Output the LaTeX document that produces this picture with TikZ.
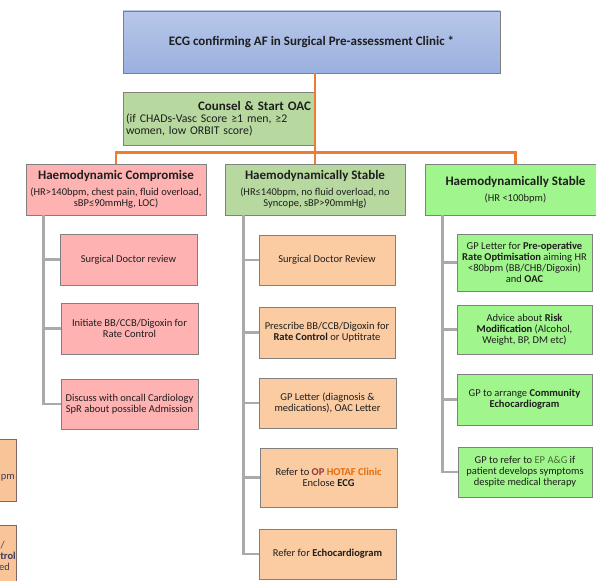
\documentclass[tikz,border=0pt]{standalone}
\usepackage{fontspec}
\setmainfont{Carlito}
\definecolor{bordergray}{RGB}{128,128,128}
\definecolor{textc}{RGB}{30,30,30}
\definecolor{bluetop}{RGB}{184,199,233}
\definecolor{bluebot}{RGB}{154,176,222}
\definecolor{counselg}{RGB}{183,217,160}
\definecolor{pinkc}{RGB}{255,178,178}
\definecolor{peachc}{RGB}{251,203,162}
\definecolor{brightg}{RGB}{160,245,140}
\definecolor{partc}{RGB}{248,196,152}
\definecolor{partborder}{RGB}{125,105,95}
\definecolor{parttext}{RGB}{60,60,90}
\definecolor{orangeline}{RGB}{237,125,49}
\definecolor{grayline}{RGB}{170,170,170}
\definecolor{opred}{RGB}{150,55,53}
\definecolor{hotaf}{RGB}{228,108,10}
\definecolor{epag}{RGB}{70,110,50}
\tikzset{
  basebox/.style={draw=bordergray, line width=0.8pt, inner sep=2pt, align=center, text=textc,
    font=\fontsize{10.5}{11}\selectfont},
  topbox/.style={basebox, top color=bluetop, bottom color=bluebot},
  counselbox/.style={basebox, fill=counselg, font=\fontsize{11.8}{12}\selectfont, align=left},
  pinkbox/.style={basebox, fill=pinkc},
  peachbox/.style={basebox, fill=peachc},
  greenbox/.style={basebox, fill=counselg},
  brightbox/.style={basebox, fill=brightg},
  partbox/.style={draw=partborder, line width=0.8pt, fill=partc},
  parttxt/.style={text=parttext, inner sep=0pt, font=\fontsize{10.5}{11}\selectfont},
  oline/.style={draw=orangeline, line width=2.3pt},
  gline/.style={draw=grayline, line width=2.4pt},
}
\newcommand{\hdrtitle}[1]{{\fontsize{13}{14}\selectfont\bfseries #1}}
\begin{document}
\begin{tikzpicture}[x=1pt,y=-1pt]
\clip (0,0) rectangle (596,580);
\fill[white] (0,0) rectangle (596,580);

% partial boxes at the left edge
\node[partbox, minimum width=116pt, minimum height=62pt] (pa) at (-42,470) {};
\node[parttxt, anchor=east] (pat) at (15,478) {pm};
\node[partbox, minimum width=116pt, minimum height=75pt] (pb) at (-42,562.5) {};
\node[parttxt, anchor=east] (pb1) at (5,545) {/};
\node[parttxt, anchor=east] (pb2) at (16,556) {\bfseries trol};
\node[parttxt, anchor=east] (pb3) at (10,567) {ed};

% top
\node[topbox, minimum width=377pt, minimum height=62pt] (top) at (311.5,42)
  {\hdrtitle{ECG confirming AF in Surgical Pre-assessment Clinic *}};

\node[counselbox, minimum width=191pt, minimum height=53pt, text width=185pt] (counsel) at (218.5,118.5)
  {\hspace*{\fill}\textbf{\fontsize{13}{12}\selectfont Counsel \& Start OAC}\hspace*{\fill}\\
   (if CHADs-Vasc Score ≥1 men, ≥2\\ women, low ORBIT score)};

% headers
\node[pinkbox, minimum width=180pt, minimum height=51pt] (lh) at (116,189.5)
  {\hdrtitle{Haemodynamic Compromise}\\[5pt]
   (HR>140bpm, chest pain, fluid overload,\\ sBP≤90mmHg, LOC)};
\node[greenbox, minimum width=180pt, minimum height=51pt] (mh) at (315,189.5)
  {\hdrtitle{Haemodynamically Stable}\\[5pt]
   (HR≤140bpm, no fluid overload, no\\ Syncope, sBP>90mmHg)};
\node[brightbox, minimum width=181pt, minimum height=51pt] (rh) at (515.5,189.5)
  {\hdrtitle{Haemodynamically Stable}\\[5pt] (HR <100bpm)};

% orange connectors
\draw[oline] (counsel.east) -- (counsel.east -| mh.north);
\draw[oline] (top.south -| mh.north) -- (mh.north);
\draw[oline] (lh.north) -- ++(0,-11) -| (rh.north);

% left column
\node[pinkbox, minimum width=137pt, minimum height=51pt] (l1) at (128.5,259.5) {Surgical Doctor review};
\node[pinkbox, minimum width=137pt, minimum height=51pt] (l2) at (129.5,328.5) {Initiate BB/CCB/Digoxin for\\ Rate Control};
\node[pinkbox, minimum width=137pt, minimum height=50pt] (l3) at (129.5,404) {Discuss with oncall Cardiology\\ SpR about possible Admission};

% middle column
\node[peachbox, minimum width=136pt, minimum height=50pt] (m1) at (327,260) {Surgical Doctor Review};
\node[peachbox, minimum width=136pt, minimum height=51pt] (m2) at (327,332.5) {Prescribe BB/CCB/Digoxin for\\ \textbf{Rate Control} or Uptitrate};
\node[peachbox, minimum width=137pt, minimum height=50pt] (m3) at (327.5,403) {GP Letter (diagnosis \&\\ medications), OAC Letter};
\node[peachbox, minimum width=137pt, minimum height=59pt] (m4) at (328.5,477.5) {Refer to \textcolor{opred}{\textbf{OP}} \textcolor{hotaf}{\textbf{HOTAF Clinic}}\\ Enclose \textbf{ECG}};
\node[peachbox, minimum width=137pt, minimum height=50pt] (m5) at (327.5,554) {Refer for \textbf{Echocardiogram}};

% right column
\node[brightbox, minimum width=135pt, minimum height=57pt] (r1) at (524.5,262.5) {GP Letter for \textbf{Pre-operative}\\ \textbf{Rate Optimisation} aiming HR\\ <80bpm (BB/CHB/Digoxin)\\ and \textbf{OAC}};
\node[brightbox, minimum width=135pt, minimum height=49pt] (r2) at (524.5,329.5) {Advice about \textbf{Risk}\\ \textbf{Modification} (Alcohol,\\ Weight, BP, DM etc)};
\node[brightbox, minimum width=135pt, minimum height=51pt] (r3) at (524.5,399.5) {GP to arrange \textbf{Community}\\ \textbf{Echocardiogram}};
\node[brightbox, minimum width=134pt, minimum height=50pt] (r4) at (525,472) {GP to refer to \textcolor{epag}{EP A\&G} if\\ patient develops symptoms\\ despite medical therapy};

% gray connectors
\foreach \c in {l1,l2,l3} \draw[gline] ([xshift=18pt]lh.south west) |- (\c.west);
\foreach \c in {m1,m2,m3,m4,m5} \draw[gline] ([xshift=19pt]mh.south west) |- (\c.west);
\foreach \c in {r1,r2,r3,r4} \draw[gline] ([xshift=18pt]rh.south west) |- (\c.west);
\end{tikzpicture}
\end{document}
